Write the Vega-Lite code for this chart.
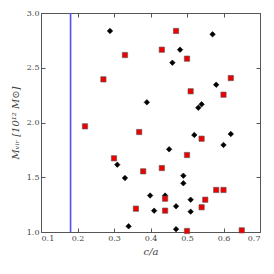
{
  "$schema": "https://vega.github.io/schema/vega-lite/v6.json",
  "width": 219,
  "height": 219,
  "autosize": {"type": "none"},
  "padding": {"left": 41, "top": 13, "right": 14, "bottom": 42},
  "background": "white",
  "config": {
    "view": {"stroke": "#555", "strokeWidth": 1},
    "axis": {
      "grid": false,
      "domainColor": "#555",
      "tickColor": "#555",
      "tickSize": -4,
      "labelFont": "DejaVu Serif",
      "labelFontSize": 8,
      "labelColor": "#444",
      "titleFont": "DejaVu Serif",
      "titleFontSize": 10,
      "titleFontWeight": "normal",
      "titleFontStyle": "italic",
      "titleColor": "#444"
    }
  },
  "datasets": {
    "pts": [
      {"c_a": 0.289, "mvir": 2.836, "kind": "diamond"},
      {"c_a": 0.570, "mvir": 2.805, "kind": "diamond"},
      {"c_a": 0.481, "mvir": 2.665, "kind": "diamond"},
      {"c_a": 0.460, "mvir": 2.546, "kind": "diamond"},
      {"c_a": 0.390, "mvir": 2.184, "kind": "diamond"},
      {"c_a": 0.580, "mvir": 2.345, "kind": "diamond"},
      {"c_a": 0.540, "mvir": 2.166, "kind": "diamond"},
      {"c_a": 0.531, "mvir": 2.135, "kind": "diamond"},
      {"c_a": 0.520, "mvir": 1.886, "kind": "diamond"},
      {"c_a": 0.620, "mvir": 1.895, "kind": "diamond"},
      {"c_a": 0.600, "mvir": 1.795, "kind": "diamond"},
      {"c_a": 0.451, "mvir": 1.755, "kind": "diamond"},
      {"c_a": 0.309, "mvir": 1.615, "kind": "diamond"},
      {"c_a": 0.330, "mvir": 1.493, "kind": "diamond"},
      {"c_a": 0.490, "mvir": 1.514, "kind": "diamond"},
      {"c_a": 0.490, "mvir": 1.445, "kind": "diamond"},
      {"c_a": 0.399, "mvir": 1.333, "kind": "diamond"},
      {"c_a": 0.440, "mvir": 1.333, "kind": "diamond"},
      {"c_a": 0.510, "mvir": 1.295, "kind": "diamond"},
      {"c_a": 0.470, "mvir": 1.235, "kind": "diamond"},
      {"c_a": 0.410, "mvir": 1.195, "kind": "diamond"},
      {"c_a": 0.510, "mvir": 1.186, "kind": "diamond"},
      {"c_a": 0.340, "mvir": 1.052, "kind": "diamond"},
      {"c_a": 0.470, "mvir": 1.026, "kind": "diamond"},
      {"c_a": 0.470, "mvir": 2.836, "kind": "square"},
      {"c_a": 0.330, "mvir": 2.616, "kind": "square"},
      {"c_a": 0.271, "mvir": 2.394, "kind": "square"},
      {"c_a": 0.431, "mvir": 2.665, "kind": "square"},
      {"c_a": 0.500, "mvir": 2.583, "kind": "square"},
      {"c_a": 0.620, "mvir": 2.406, "kind": "square"},
      {"c_a": 0.510, "mvir": 2.285, "kind": "square"},
      {"c_a": 0.600, "mvir": 2.254, "kind": "square"},
      {"c_a": 0.2205, "mvir": 1.965, "kind": "square"},
      {"c_a": 0.369, "mvir": 1.913, "kind": "square"},
      {"c_a": 0.540, "mvir": 1.852, "kind": "square"},
      {"c_a": 0.500, "mvir": 1.703, "kind": "square"},
      {"c_a": 0.300, "mvir": 1.673, "kind": "square"},
      {"c_a": 0.380, "mvir": 1.554, "kind": "square"},
      {"c_a": 0.431, "mvir": 1.584, "kind": "square"},
      {"c_a": 0.580, "mvir": 1.384, "kind": "square"},
      {"c_a": 0.600, "mvir": 1.384, "kind": "square"},
      {"c_a": 0.440, "mvir": 1.304, "kind": "square"},
      {"c_a": 0.550, "mvir": 1.295, "kind": "square"},
      {"c_a": 0.360, "mvir": 1.213, "kind": "square"},
      {"c_a": 0.540, "mvir": 1.226, "kind": "square"},
      {"c_a": 0.440, "mvir": 1.195, "kind": "square"},
      {"c_a": 0.500, "mvir": 1.009, "kind": "square"},
      {"c_a": 0.650, "mvir": 1.015, "kind": "square"}
    ],
    "vline": [{"c_a": 0.181}]
  },
  "layer": [
    {
      "data": {"name": "vline"},
      "mark": {"type": "rule", "color": "#5050f5", "strokeWidth": 1.6},
      "encoding": {
        "x": {
          "field": "c_a", "type": "quantitative",
          "scale": {"domain": [0.1, 0.7], "nice": false, "zero": false},
          "axis": {"orient": "top", "values": [0.1, 0.2, 0.3, 0.4, 0.5, 0.6, 0.7], "labels": false, "title": null, "domain": false}
        }
      }
    },
    {
      "data": {"name": "pts"},
      "mark": {"type": "point", "filled": true, "opacity": 1, "strokeWidth": 0.6},
      "encoding": {
        "x": {
          "field": "c_a", "type": "quantitative",
          "scale": {"domain": [0.1, 0.7], "nice": false, "zero": false},
          "axis": {"orient": "bottom", "values": [0.1, 0.2, 0.3, 0.4, 0.5, 0.6, 0.7], "format": ".1f", "title": "c/a", "domain": false, "labelPadding": 6, "titlePadding": 4}
        },
        "y": {
          "field": "mvir", "type": "quantitative",
          "scale": {"domain": [1, 3], "nice": false, "zero": false},
          "axis": {"orient": "left", "values": [1, 1.5, 2, 2.5, 3], "format": ".1f", "title": "Mᵥᵢᵣ [10¹² M⊙]", "domain": false, "labelPadding": 6, "titlePadding": 6}
        },
        "shape": {
          "field": "kind", "type": "nominal",
          "scale": {"domain": ["diamond", "square"], "range": ["diamond", "square"]},
          "legend": null
        },
        "color": {
          "field": "kind", "type": "nominal",
          "scale": {"domain": ["diamond", "square"], "range": ["#000000", "#ee0000"]},
          "legend": null
        },
        "stroke": {
          "field": "kind", "type": "nominal",
          "scale": {"domain": ["diamond", "square"], "range": ["#000000", "#555555"]},
          "legend": null
        },
        "size": {
          "field": "kind", "type": "nominal",
          "scale": {"domain": ["diamond", "square"], "range": [30, 28]},
          "legend": null
        }
      }
    },
    {
      "data": {"name": "pts"},
      "mark": {"type": "point", "opacity": 0},
      "encoding": {
        "x": {"field": "c_a", "type": "quantitative", "scale": {"domain": [0.1, 0.7], "nice": false, "zero": false}, "axis": null},
        "y": {
          "field": "mvir", "type": "quantitative",
          "scale": {"domain": [1, 3], "nice": false, "zero": false},
          "axis": {"orient": "right", "values": [1, 1.5, 2, 2.5, 3], "labels": false, "title": null, "domain": false}
        }
      }
    }
  ],
  "resolve": {"axis": {"x": "independent", "y": "independent"}}
}
